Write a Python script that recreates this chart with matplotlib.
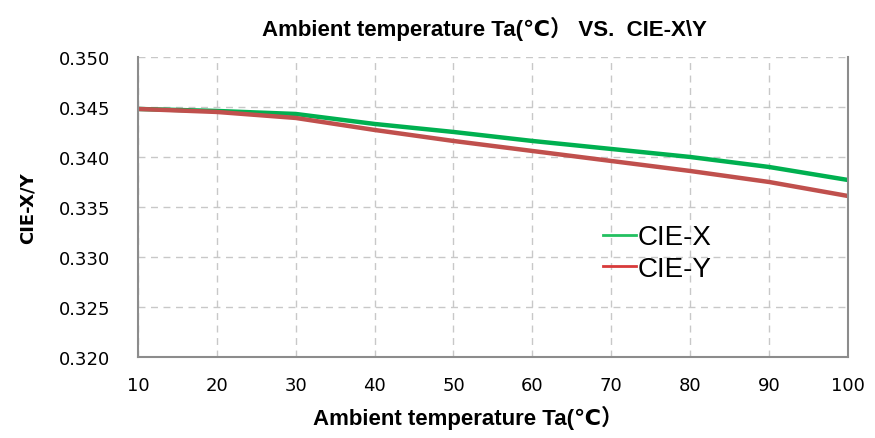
import matplotlib
matplotlib.use('Agg')
import matplotlib.pyplot as plt
from matplotlib import font_manager

# ambient temperature (C) vs CIE chromaticity coordinates
temp = [10, 20, 30, 40, 50, 60, 70, 80, 90, 100]
cie_x = [0.3448, 0.3446, 0.3443, 0.3433, 0.3425, 0.3416, 0.3408, 0.3400, 0.3390, 0.3377]
cie_y = [0.3448, 0.3445, 0.3439, 0.3427, 0.3416, 0.3406, 0.3396, 0.3386, 0.3375, 0.3361]
xticks = list(range(10, 101, 10))
yticks = [0.320, 0.325, 0.330, 0.335, 0.340, 0.345, 0.350]

names = {f.name for f in font_manager.fontManager.ttflist}
cond = 'DejaVu Sans Condensed' if 'DejaVu Sans Condensed' in names else 'Liberation Sans'
plt.rcParams['font.family'] = ['DejaVu Sans', 'Noto Sans CJK SC']
head = [cond, 'DejaVu Sans', 'Noto Sans CJK SC']

fig = plt.figure(figsize=(8.75, 4.39), dpi=100)
ax = fig.add_axes([0.1577, 0.1845, 0.8113, 0.6835])

ax.plot(temp, cie_x, color='#00B050', lw=3.2, solid_capstyle='butt', label='CIE-X')
ax.plot(temp, cie_y, color='#C0504D', lw=3.2, solid_capstyle='butt', label='CIE-Y')

ax.set_xlim(10, 100)
ax.set_ylim(0.320, 0.350)
ax.set_xticks(xticks)
ax.set_yticks(yticks)
ax.set_yticklabels([f'{v:.3f}' for v in yticks])
ax.tick_params(length=0, labelsize=13)
ax.tick_params(axis='y', pad=20)
ax.tick_params(axis='x', pad=14)
ax.grid(True, color='#c8c8c8', ls=(0, (5, 4)), lw=1)
ax.set_axisbelow(True)
for s in ['left', 'bottom', 'right']:
    ax.spines[s].set_color('#8c8c8c')
    ax.spines[s].set_linewidth(1.5)
ax.spines['top'].set_visible(False)

ax.set_title('Ambient temperature Ta(\u2103\uff09 VS.  CIE-X\\Y', fontsize=16,
             fontweight='bold', family=head, pad=16, x=0.488)
ax.set_xlabel('Ambient temperature Ta(\u2103\uff09', fontsize=16, fontweight='bold',
              family=head)
ax.xaxis.set_label_coords(0.465, -0.16)
ax.set_ylabel('CIE-X/Y', fontsize=13, fontweight='bold', labelpad=16)

h1, = ax.plot([], [], color='#22c060', lw=2)
h2, = ax.plot([], [], color='#d83a3a', lw=2)
ax.legend([h1, h2], ['CIE-X', 'CIE-Y'], loc='upper left', bbox_to_anchor=(0.62, 0.525),
          frameon=False, handlelength=1.2, handletextpad=0.05,
          labelspacing=0.2, prop={'family': 'Liberation Sans', 'size': 20})

fig.savefig('out.png', dpi=100)
